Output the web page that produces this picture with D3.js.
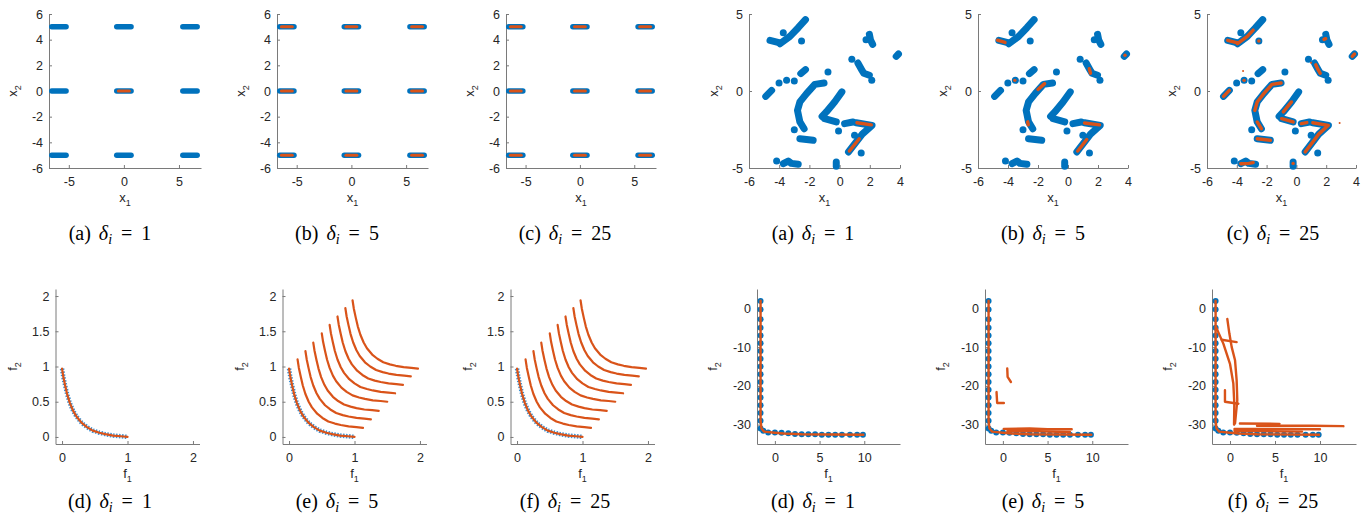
<!DOCTYPE html>
<html>
<head>
<meta charset="utf-8">
<script src="https://cdn.jsdelivr.net/npm/d3@7"></script>
<style>
  body { margin: 0; background: #fff; }
</style>
</head>
<body>
<div id="chart"></div>
<script>
'use strict';

const BLUE = '#0072BD';
const ORANGE = '#D95319';

// ---- top left group: the nine optimal regions in decision space ----
const gridX = [-5.9, 0, 6.0];
const gridY = [-5, 0, 5];
const blueSpread = 0.65;    // half width of a blue cluster along x_1
const orangeSpread = 0.5;
const orangeCellsA = [[0, 0]];
const orangeCellsB = [[-5.9, 5], [0, 5], [6.0, 5], [-5.9, 0], [0, 0], [6.0, 0],
  [-5.9, -5], [0, -5], [6.0, -5]];
const orangeCellsC = [[-5.9, 5], [0, 5], [6.0, 5], [-5.9, 0], [0, 0], [6.0, 0],
  [-5.9, -5], [0, -5], [6.0, -5]];

// ---- top right group: scattered optimal pieces in decision space ----
const blueBlobs = [
  [[-4.61, 3.29], [-3.95, 3.12]],
  [[-3.95, 3.07], [-3.29, 3.55], [-2.74, 4.11], [-2.26, 4.63]],
  [[-3.73, 3.79]],
  [[-2.52, 3.25]],
  [[1.97, 3.68], [2.05, 3.3], [2.19, 3.03]],
  [[1.75, 3.33]],
  [[3.75, 2.25], [3.9, 2.4]],
  [[0.81, 2.06]],
  [[1.21, 1.82], [1.45, 1.4], [1.6, 1.15], [1.97, 1.02]],
  [[2.13, 0.69]],
  [[-2.57, 1.13], [-2.26, 1.39]],
  [[-0.77, 1.23]],
  [[-4.89, -0.35], [-4.5, 0.04]],
  [[-4.01, 0.52]],
  [[-3.51, 0.69]],
  [[-3.0, 0.65]],
  [[-1.03, 0.52], [-1.64, 0.43], [-2.19, -0.17], [-2.63, -0.71], [-2.79, -1.26],
    [-2.63, -2.01], [-2.35, -2.45]],
  [[-3.0, -2.51]],
  [[-2.63, -3.1], [-1.75, -3.2]],
  [[0.15, -0.06], [-0.33, -0.71], [-0.88, -1.36], [-1.16, -1.65]],
  [[-0.99, -1.8], [-0.22, -2.01]],
  [[-0.07, -2.6]],
  [[0.33, -2.12], [0.88, -2.01]],
  [[1.1, -2.06], [2.15, -2.23], [1.5, -2.8], [0.59, -3.96]],
  [[0.99, -2.88]],
  [[1.43, -4.03]],
  [[-4.17, -4.55]],
  [[-3.73, -4.72], [-3.4, -4.55], [-3.2, -4.7], [-2.74, -4.76]],
  [[-0.22, -4.61], [-0.22, -4.89]]
];
const orangeBlobsA = [
  [[1.15, -2.06], [2.1, -2.2]],
  [[1.3, -3.1], [0.65, -3.9]]
];
const orangeBlobsB = [
  [[-4.7, 3.3], [-4.2, 3.15]],
  [[-3.55, 0.69]],
  [[-2.0, 0.1], [-1.56, 0.48]],
  [[-2.69, -2.0], [-2.65, -2.2]],
  [[1.42, 1.45], [1.5, 1.15]],
  [[3.8, 2.32]],
  [[1.1, -2.08], [2.1, -2.2]],
  [[1.25, -3.15], [0.65, -3.9]]
];
const orangeBlobsC = [
  [[-4.61, 3.29], [-3.95, 3.12]],
  [[-3.95, 3.07], [-3.29, 3.55], [-2.9, 3.95]],
  [[-2.52, 3.25]],
  [[1.85, 3.35], [1.97, 3.4]],
  [[3.75, 2.25], [3.9, 2.4]],
  [[1.3, 1.7], [1.45, 1.4], [1.6, 1.15]],
  [[-4.89, -0.35], [-4.5, 0.04]],
  [[-3.51, 0.69]],
  [[-1.03, 0.52], [-1.64, 0.43], [-2.19, -0.17], [-2.63, -0.71], [-2.79, -1.26]],
  [[-2.63, -2.01], [-2.35, -2.45]],
  [[-2.63, -3.1], [-1.75, -3.2]],
  [[-0.33, -0.71], [-0.88, -1.36]],
  [[-0.99, -1.8], [-0.22, -2.01]],
  [[0.33, -2.12], [0.7, -2.05]],
  [[1.1, -2.06], [2.15, -2.23], [1.5, -2.8], [0.59, -3.96]],
  [[-3.73, -4.72], [-3.2, -4.7], [-2.9, -4.65]],
  [[-0.22, -4.7]]
];
const orangeSpecksC = [[-3.58, 1.3], [2.9, -2.08], [0.98, 1.84]];

// ---- bottom left group: objective space, shifted fronts ----
const pfF1 = [0, 0.02, 0.05, 0.08, 0.12, 0.17, 0.22, 0.3, 0.38, 0.47, 0.57, 0.66, 0.78, 0.9, 1.0];
const pfF2 = [0.97, 0.85, 0.72, 0.6, 0.48, 0.37, 0.29, 0.2, 0.14, 0.09, 0.06, 0.04, 0.02, 0.01, 0.0];
const shiftsD = [0];
const shiftsE = [0, 0.13, 0.25, 0.37, 0.5, 0.62, 0.74, 0.86, 0.97];
const shiftsF = [0, 0.13, 0.25, 0.37, 0.5, 0.62, 0.74, 0.86, 0.97];

// ---- bottom right group: objective space, L-shaped front ----
const frontF1 = [-1.6, -1.6, -1.6, -1.6, -1.6, -1.6, -1.6, -1.6, -1.6, -1.6, -1.6, -1.6,
  -1.6, -1.6, -1.6, -1.6, -1.6, -1.3, -0.75, 0, 0.75, 1.5, 2.25, 3.0, 3.75, 4.5, 5.25,
  6.0, 6.75, 7.5, 8.4, 9.2, 9.85];
const frontF2 = [1.9, -0.3, -2.8, -5, -7, -9, -11, -13, -15, -17, -19, -21, -23, -25,
  -27, -29, -31, -31.6, -32.0, -32.0, -32.1, -32.2, -32.4, -32.5, -32.5, -32.5, -32.6,
  -32.6, -32.6, -32.6, -32.6, -32.6, -32.6];
const orangeMain = [[-1.6, 2], [-1.6, -29], [-1.5, -31], [-1.2, -31.8], [0, -32.1],
  [1, -32.3], [3, -32.5], [9.9, -32.6]];
const orangeExtraE = [
  [[0.49, -15.5], [0.53, -17.7], [0.9, -19.0]],
  [[-0.71, -21.6], [-0.64, -24.4], [0.11, -24.4]],
  [[0.1, -31.1], [3, -31.0], [5, -31.2], [7.7, -31.2]],
  [[0.5, -31.7], [4, -31.7], [7.5, -31.9]]
];
const orangeExtraF = [
  [[-0.3, -2.7], [-0.07, -6.5], [0.19, -10], [0.56, -13.4], [0.74, -18.6], [0.81, -23.7], [0.56, -29.7]],
  [[-1.56, -4.8], [-0.74, -9.1], [0, -14.3], [0.37, -19.4], [0.48, -24.6], [0.45, -30]],
  [[-0.93, -8.1], [0.74, -8.7]],
  [[-0.56, -21.1], [-0.56, -24.1], [0.93, -24.6]],
  [[1.1, -29.7], [5.5, -29.8]],
  [[3, -30.3], [9, -30.3], [12.6, -30.4]],
  [[0.5, -31.1], [10, -31.2]],
  [[0.5, -31.6], [8, -31.8]]
];

const letters = ['(a)', '(b)', '(c)', '(d)', '(e)', '(f)'];
const deltas = [1, 5, 25];

const TICK_FONT = 'Liberation Sans, Arial, Helvetica, sans-serif';
const CAPTION_FONT = 'Liberation Serif, Times New Roman, serif';

/**
 * One MATLAB-style axes: left and bottom lines, ticks pointing inward.
 */
class Panel {

  /**
   * @param {Object} svg D3 selection of the svg.
   * @param {Object} box Pixel box {left, right, top, bottom}.
   * @param {Object} spec Domains, ticks and axis labels.
   */
  constructor(svg, box, spec) {
    this.box = box;
    this.spec = spec;
    this.x = d3.scaleLinear().domain(spec.xDomain).range([box.left, box.right]);
    this.y = d3.scaleLinear().domain(spec.yDomain).range([box.bottom, box.top]);
    this.elem = svg.append('g');
    this._line = d3.line()
      .x(d => this.x(d[0]))
      .y(d => this.y(d[1]));
    this._drawAxes();
  }

  _styleAxis(g) {
    g.attr('font-family', TICK_FONT).attr('font-size', 12.5);
    g.select('.domain').attr('stroke', '#7a7a7a');
    g.selectAll('.tick line').attr('stroke', '#7a7a7a');
    g.selectAll('.tick text').attr('fill', '#262626');
  }

  _label(g, name, sub) {
    g.append('tspan').text(name);
    g.append('tspan').attr('font-size', 9).attr('dy', 4).text(sub);
  }

  _drawAxes() {
    const fmt = d => String(d);

    const xAxis = d3.axisBottom(this.x)
      .tickValues(this.spec.xTicks)
      .tickFormat(fmt)
      .tickSizeInner(-3)
      .tickSizeOuter(0)
      .tickPadding(9.5);
    this.elem.append('g')
      .attr('transform', `translate(0,${this.box.bottom})`)
      .call(xAxis)
      .call(g => this._styleAxis(g));

    const yAxis = d3.axisLeft(this.y)
      .tickValues(this.spec.yTicks)
      .tickFormat(fmt)
      .tickSizeInner(-3)
      .tickSizeOuter(0)
      .tickPadding(6);
    this.elem.append('g')
      .attr('transform', `translate(${this.box.left},0)`)
      .call(yAxis)
      .call(g => this._styleAxis(g));

    const xl = this.elem.append('text')
      .attr('x', (this.box.left + this.box.right) / 2)
      .attr('y', this.box.bottom + 34)
      .attr('text-anchor', 'middle')
      .attr('font-family', TICK_FONT)
      .attr('font-size', 13)
      .attr('fill', '#262626');
    this._label(xl, this.spec.xLabel[0], this.spec.xLabel[1]);

    const lx = this.box.left - this.spec.yLabelGap;
    const ly = (this.box.top + this.box.bottom) / 2;
    const yl = this.elem.append('text')
      .attr('transform', `translate(${lx},${ly}) rotate(-90)`)
      .attr('text-anchor', 'middle')
      .attr('font-family', TICK_FONT)
      .attr('font-size', 13)
      .attr('fill', '#262626');
    this._label(yl, this.spec.yLabel[0], this.spec.yLabel[1]);
  }

  /**
   * Draw thick round strokes through each list of points.
   */
  strokes(segments, color, width) {
    segments.forEach(seg => {
      if (seg.length === 1) {
        this.elem.append('circle')
          .attr('cx', this.x(seg[0][0]))
          .attr('cy', this.y(seg[0][1]))
          .attr('r', width / 2)
          .attr('fill', color);
      } else {
        this.elem.append('path')
          .attr('d', this._line(seg))
          .attr('fill', 'none')
          .attr('stroke', color)
          .attr('stroke-width', width)
          .attr('stroke-linecap', 'round')
          .attr('stroke-linejoin', 'round');
      }
    });
  }

  dots(points, color, r) {
    this.elem.selectAll(null)
      .data(points)
      .enter()
      .append('circle')
      .attr('cx', d => this.x(d[0]))
      .attr('cy', d => this.y(d[1]))
      .attr('r', r)
      .attr('fill', color);
  }
}

/**
 * Draw the caption "(a) δ_i = 1" below a panel.
 */
function drawCaption(svg, cx, baseline, letter, delta) {
  const t = svg.append('text')
    .attr('x', cx)
    .attr('y', baseline)
    .attr('text-anchor', 'middle')
    .attr('font-family', CAPTION_FONT)
    .attr('font-size', 20)
    .attr('fill', '#000');
  t.append('tspan').text(letter);
  t.append('tspan').attr('dx', 8).attr('font-style', 'italic').text('\u03b4');
  t.append('tspan').attr('font-style', 'italic').attr('font-size', 14).attr('dy', 4).text('i');
  t.append('tspan').attr('dy', -4).attr('dx', 9).text('=');
  t.append('tspan').attr('dx', 9).text(String(delta));
}

const svg = d3.select('#chart')
  .append('svg')
  .attr('width', 1372)
  .attr('height', 523);

const ROW1 = {top: 14, bottom: 168, caption: 240};
const ROW2 = {top: 289, bottom: 444, caption: 508};
const captionX = [110, 337, 565, 813, 1043, 1273];

const specGrid = {xDomain: [-6.8, 7], yDomain: [-6, 6], xTicks: [-5, 0, 5],
  yTicks: [-6, -4, -2, 0, 2, 4, 6], xLabel: ['x', '1'], yLabel: ['x', '2'], yLabelGap: 32};
const specScatter = {xDomain: [-6, 4], yDomain: [-5, 5], xTicks: [-6, -4, -2, 0, 2, 4],
  yTicks: [-5, 0, 5], xLabel: ['x', '1'], yLabel: ['x', '2'], yLabelGap: 31};
const specFronts = {xDomain: [-0.1, 2.1], yDomain: [-0.1, 2.1], xTicks: [0, 1, 2],
  yTicks: [0, 0.5, 1, 1.5, 2], xLabel: ['f', '1'], yLabel: ['f', '2'], yLabelGap: 39};
const specL = {xDomain: [-2, 14], yDomain: [-35, 5], xTicks: [0, 5, 10],
  yTicks: [-30, -20, -10, 0], xLabel: ['f', '1'], yLabel: ['f', '2'], yLabelGap: 40};

// top left
const gridLefts = [[49, 201], [277, 428], [506, 656]];
const gridOrange = [orangeCellsA, orangeCellsB, orangeCellsC];
gridLefts.forEach((lr, k) => {
  const p = new Panel(svg, {left: lr[0], right: lr[1], top: ROW1.top, bottom: ROW1.bottom}, specGrid);
  const cells = [];
  gridY.forEach(cy => gridX.forEach(cx => cells.push([[cx - blueSpread, cy], [cx + blueSpread, cy]])));
  p.strokes(cells, BLUE, 5.5);
  p.strokes(gridOrange[k].map(c => [[c[0] - orangeSpread, c[1]], [c[0] + orangeSpread, c[1]]]), ORANGE, 3);
  drawCaption(svg, captionX[k], ROW1.caption, letters[k], deltas[k]);
});

// top right
const scatterLefts = [[749, 900], [978, 1128], [1207, 1356]];
const scatterOrange = [orangeBlobsA, orangeBlobsB, orangeBlobsC];
scatterLefts.forEach((lr, k) => {
  const p = new Panel(svg, {left: lr[0], right: lr[1], top: ROW1.top, bottom: ROW1.bottom}, specScatter);
  p.strokes(blueBlobs, BLUE, 7);
  p.strokes(scatterOrange[k], ORANGE, 3.4);
  if (k === 2) {
    p.dots(orangeSpecksC, ORANGE, 1);
  }
  drawCaption(svg, captionX[3 + k], ROW1.caption, letters[k], deltas[k]);
});

// bottom left
const frontLefts = [[55.5, 199.5], [282.5, 426.5], [510.5, 654.5]];
const frontShifts = [shiftsD, shiftsE, shiftsF];
const pf = pfF1.map((f, i) => [f, pfF2[i]]);
frontLefts.forEach((lr, k) => {
  const p = new Panel(svg, {left: lr[0], right: lr[1], top: ROW2.top, bottom: ROW2.bottom}, specFronts);
  p.elem.append('path')
    .attr('d', p._line(pf))
    .attr('fill', 'none')
    .attr('stroke', '#3a8fd0')
    .attr('stroke-width', 4.5)
    .attr('stroke-dasharray', '1.5 1.5');
  p.strokes(frontShifts[k].map(s => pf.map(d => [d[0] + s, d[1] + s])), ORANGE, 2.2);
  drawCaption(svg, captionX[k], ROW2.caption, letters[3 + k], deltas[k]);
});

// bottom right
const lLefts = [[757, 900], [985, 1128], [1212, 1356]];
const lExtras = [[], orangeExtraE, orangeExtraF];
const front = frontF1.map((f, i) => [f, frontF2[i]]);
lLefts.forEach((lr, k) => {
  const p = new Panel(svg, {left: lr[0], right: lr[1], top: ROW2.top, bottom: ROW2.bottom}, specL);
  p.dots(front, BLUE, 3);
  p.strokes([orangeMain], ORANGE, 2.4);
  p.strokes(lExtras[k], ORANGE, 2.4);
  drawCaption(svg, captionX[3 + k], ROW2.caption, letters[3 + k], deltas[k]);
});
</script>
</body>
</html>
